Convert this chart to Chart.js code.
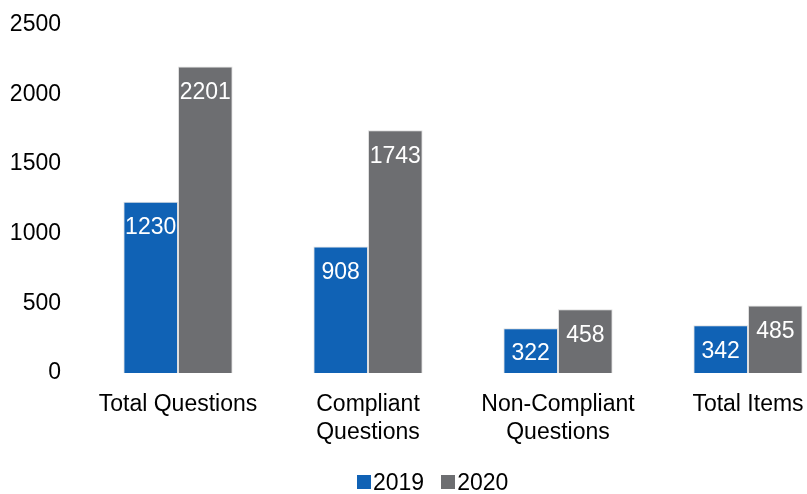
<!DOCTYPE html>
<html>
<head>
<meta charset="utf-8">
<script src="https://cdn.jsdelivr.net/npm/chart.js@4"></script>
<style>
  html, body { margin: 0; padding: 0; background: #fff; overflow: hidden; }
  body { width: 807px; height: 494px; position: relative; }
  #wrap { width: 843px; height: 497px; position: absolute; left: 0; top: -3px; }
  #legend { position: absolute; left: 357px; top: 468px; height: 28px; display: flex; align-items: center;
            font: 23px 'Liberation Sans', Arial, sans-serif; color: #000; }
  #legend .item { display: flex; align-items: center; margin-right: 17px; }
  #legend .box { width: 14px; height: 14px; margin-right: 2px; }
</style>
</head>
<body>
<div id="wrap"><canvas id="chart"></canvas></div>
<div id="legend"></div>
<script>
// categories and series
const categories = [
  "Total Questions",
  ["Compliant", "Questions"],
  ["Non-Compliant", "Questions"],
  "Total Items",
];
const seriesNames = ["2019", "2020"];
const values2019 = [1230, 908, 322, 342];
const values2020 = [2201, 1743, 458, 485];
const seriesColors = ["#1062b5", "#6d6e71"];

const FONT = "'Liberation Sans', Arial, sans-serif";

// white value labels inside the top of each bar
const barLabels = {
  id: "barLabels",
  afterDatasetsDraw(chart) {
    const ctx = chart.ctx;
    ctx.save();
    ctx.font = "23px " + FONT;
    ctx.fillStyle = "#ffffff";
    ctx.textAlign = "center";
    ctx.textBaseline = "middle";
    chart.data.datasets.forEach((ds, i) => {
      chart.getDatasetMeta(i).data.forEach((bar, j) => {
        ctx.fillText(String(ds.data[j]), bar.x, bar.y + 26);
      });
    });
    ctx.restore();
  },
};

const chart = new Chart(document.getElementById("chart").getContext("2d"), {
  type: "bar",
  data: {
    labels: categories,
    datasets: [values2019, values2020].map((vals, i) => ({
      label: seriesNames[i],
      data: vals,
      backgroundColor: seriesColors[i],
      borderColor: "rgba(210,210,210,0.7)",
      borderWidth: 1,
    })),
  },
  options: {
    responsive: true,
    maintainAspectRatio: false,
    animation: false,
    layout: { padding: 0 },
    datasets: { bar: { categoryPercentage: 0.575, barPercentage: 1 } },
    plugins: {
      legend: { display: false },
      tooltip: { enabled: false },
    },
    scales: {
      x: {
        grid: { display: false },
        border: { display: false },
        ticks: {
          color: "#000",
          font: { size: 23, family: FONT, lineHeight: 1.22 },
          padding: 10,
          maxRotation: 0,
          autoSkip: false,
        },
        afterFit(scale) { scale.height = 121; },
      },
      y: {
        min: 0,
        max: 2500,
        grid: { display: false },
        border: { display: false },
        ticks: {
          stepSize: 500,
          color: "#000",
          font: { size: 23, family: FONT },
          padding: 14,
          callback: (v) => String(v),
        },
        afterFit(scale) { scale.width = 83; },
      },
    },
  },
  plugins: [barLabels],
});

// legend built from the series names and colours
document.getElementById("legend").innerHTML = seriesNames
  .map((name, i) => `<span class="item"><span class="box" style="background:${seriesColors[i]}"></span>${name}</span>`)
  .join("");
</script>
</body>
</html>
